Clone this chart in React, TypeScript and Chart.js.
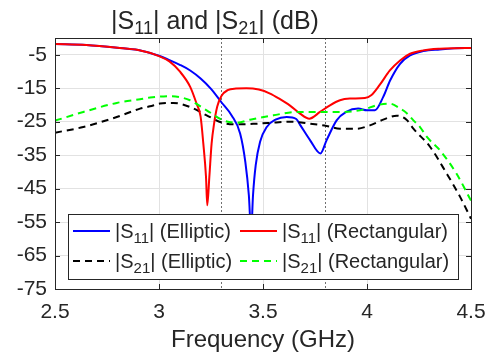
import React, { useEffect, useRef } from 'react';
import { Chart, registerables } from 'chart.js';

Chart.register(...registerables);

// ---- data ----
const s11EllipticFreq = [2.5, 2.65, 2.8, 2.9, 3.0, 3.05, 3.1, 3.15, 3.2, 3.25, 3.3, 3.35, 3.39, 3.415, 3.432, 3.443, 3.452, 3.465, 3.486, 3.518, 3.56, 3.614, 3.66, 3.68, 3.726, 3.776, 3.806, 3.854, 3.9, 3.958, 4.0, 4.038, 4.078, 4.111, 4.159, 4.207, 4.27, 4.35, 4.42, 4.5];
const s11EllipticDb = [-1.8, -2.1, -2.9, -3.6, -5.3, -6.6, -8.0, -9.7, -12.1, -15.2, -19.2, -23.2, -28.5, -37, -47, -58, -47, -38, -31, -26.6, -24.4, -23.6, -24.2, -26.1, -30.5, -34.5, -30.5, -24.6, -22.1, -21.1, -21.6, -21.6, -17.6, -12.7, -7.7, -5.2, -3.9, -3.4, -3.1, -3.0];

const s11RectFreq = [2.5, 2.65, 2.8, 2.9, 3.0, 3.05, 3.1, 3.15, 3.18, 3.2, 3.213, 3.226, 3.232, 3.242, 3.253, 3.265, 3.28, 3.3, 3.33, 3.37, 3.42, 3.48, 3.534, 3.58, 3.63, 3.678, 3.723, 3.774, 3.822, 3.87, 3.918, 3.99, 4.02, 4.06, 4.11, 4.159, 4.207, 4.27, 4.35, 4.42, 4.5];
const s11RectDb = [-1.8, -2.1, -2.9, -3.6, -5.4, -7.0, -10.0, -14.6, -19.5, -23.5, -31.5, -41.5, -50, -41.5, -31.5, -25.5, -20.5, -17.3, -15.6, -15.1, -15.0, -15.4, -16.6, -18.2, -20.2, -22.6, -24.1, -22.1, -20.1, -18.6, -18.1, -17.9, -17.1, -14.1, -9.7, -6.7, -4.7, -3.7, -3.2, -3.05, -3.0];

const s21EllipticFreq = [2.5, 2.636, 2.797, 2.909, 2.957, 3.005, 3.069, 3.149, 3.229, 3.309, 3.389, 3.47, 3.55, 3.63, 3.726, 3.806, 3.87, 3.95, 4.014, 4.078, 4.143, 4.19, 4.223, 4.303, 4.383, 4.447, 4.5];
const s21EllipticDb = [-28.3, -26.6, -23.6, -21.1, -20.4, -19.6, -19.4, -20.6, -23.1, -25.4, -25.8, -25.6, -25.3, -25.0, -25.6, -26.3, -27.1, -27.1, -26.1, -24.4, -23.2, -24.4, -27.1, -32.5, -40.5, -47.4, -54];

const s21RectFreq = [2.5, 2.636, 2.797, 2.909, 2.957, 3.053, 3.1, 3.149, 3.229, 3.309, 3.373, 3.438, 3.55, 3.662, 3.79, 3.87, 3.982, 4.046, 4.11, 4.159, 4.19, 4.223, 4.255, 4.287, 4.35, 4.43, 4.5];
const s21RectDb = [-24.7, -22.1, -19.4, -18.3, -17.8, -17.4, -17.7, -18.6, -21.6, -24.6, -25.3, -24.4, -23.1, -22.1, -22.1, -22.1, -21.4, -20.1, -19.6, -21.1, -22.4, -24.6, -26.6, -29.5, -33.5, -40.5, -48.6];

const xTicks = [2.5, 3, 3.5, 4, 4.5];
const yTicks = [-5, -15, -25, -35, -45, -55, -65, -75];
const markerFreqs = [3.3, 3.8];
const seriesLabels = ['|S_{11}| (Elliptic)', '|S_{11}| (Rectangular)', '|S_{21}| (Elliptic)', '|S_{21}| (Rectangular)'];
const titleText = '|S_{11}| and |S_{21}| (dB)';
const xAxisTitle = 'Frequency (GHz)';

const FONT = '"Liberation Sans", Arial, sans-serif';

type Seg = { t: string; sub: boolean };
function parseRich(text: string): Seg[] {
  const segs: Seg[] = [];
  const re = /_\{([^}]*)\}/g;
  let last = 0;
  let m: RegExpExecArray | null;
  while ((m = re.exec(text))) {
    if (m.index > last) segs.push({ t: text.slice(last, m.index), sub: false });
    segs.push({ t: m[1], sub: true });
    last = m.index + m[0].length;
  }
  if (last < text.length) segs.push({ t: text.slice(last), sub: false });
  return segs;
}

function drawRich(ctx: CanvasRenderingContext2D, text: string, x: number, y: number, size: number, subSize: number, subDy: number, align: 'left' | 'center') {
  const segs = parseRich(text);
  const mainF = `${size}px ${FONT}`;
  const subF = `${subSize}px ${FONT}`;
  let w = 0;
  for (const s of segs) {
    ctx.font = s.sub ? subF : mainF;
    w += ctx.measureText(s.t).width;
  }
  let cx = align === 'center' ? x - w / 2 : x;
  ctx.textAlign = 'left';
  ctx.textBaseline = 'alphabetic';
  for (const s of segs) {
    ctx.font = s.sub ? subF : mainF;
    ctx.fillText(s.t, cx, s.sub ? y + subDy : y);
    cx += ctx.measureText(s.t).width;
  }
}

const decorPlugin = {
  id: 'decor',
  beforeDatasetsDraw(chart: any) {
    const { ctx, chartArea: a, scales } = chart;
    ctx.save();
    ctx.strokeStyle = '#707070';
    ctx.lineWidth = 1;
    ctx.setLineDash([2, 2]);
    for (const f of markerFreqs) {
      const px = Math.round(scales.x.getPixelForValue(f)) + 0.5;
      ctx.beginPath();
      ctx.moveTo(px, a.top);
      ctx.lineTo(px, a.bottom);
      ctx.stroke();
    }
    ctx.restore();
  },
  afterDatasetsDraw(chart: any) {
    const { ctx, chartArea: a, scales } = chart;
    ctx.save();
    // box
    ctx.strokeStyle = '#262626';
    ctx.lineWidth = 1;
    ctx.strokeRect(Math.round(a.left) + 0.5, Math.round(a.top) + 0.5, Math.round(a.right - a.left), Math.round(a.bottom - a.top));
    // inward ticks
    const tl = 5;
    ctx.beginPath();
    for (const v of xTicks) {
      const px = Math.round(scales.x.getPixelForValue(v)) + 0.5;
      ctx.moveTo(px, a.bottom); ctx.lineTo(px, a.bottom - tl);
      ctx.moveTo(px, a.top); ctx.lineTo(px, a.top + tl);
    }
    for (const v of yTicks) {
      const py = Math.round(scales.y.getPixelForValue(v)) + 0.5;
      ctx.moveTo(a.left, py); ctx.lineTo(a.left + tl, py);
      ctx.moveTo(a.right, py); ctx.lineTo(a.right - tl, py);
    }
    ctx.stroke();

    // legend
    const bx = 68, by = 214, bw = 390, bh = 65;
    ctx.fillStyle = '#ffffff';
    ctx.fillRect(bx, by, bw, bh);
    ctx.strokeStyle = '#262626';
    ctx.strokeRect(bx + 0.5, by + 0.5, bw, bh);
    const order = [0, 1, 2, 3];
    const cols = [73, 240];
    const rows = [231, 261];
    order.forEach((di, k) => {
      const ds = chart.data.datasets[di];
      const lx = cols[k % 2];
      const ly = rows[Math.floor(k / 2)];
      ctx.save();
      ctx.strokeStyle = ds.borderColor;
      ctx.lineWidth = ds.borderWidth;
      ctx.setLineDash(ds.borderDash || []);
      ctx.beginPath();
      ctx.moveTo(lx, ly);
      ctx.lineTo(lx + 37, ly);
      ctx.stroke();
      ctx.restore();
      ctx.fillStyle = '#262626';
      drawRich(ctx, ds.label, lx + 42, ly + 7, 20, 15, 5, 'left');
    });
    ctx.restore();
  },
  afterDraw(chart: any) {
    const { ctx } = chart;
    ctx.save();
    ctx.fillStyle = '#262626';
    drawRich(ctx, titleText, 215, 29, 25, 18, 5, 'center');
    ctx.restore();
  },
};

function pts(fs: number[], vs: number[]) {
  return fs.map((f, i) => ({ x: f, y: vs[i] }));
}

export default function App() {
  const ref = useRef<HTMLCanvasElement | null>(null);
  useEffect(() => {
    if (!ref.current) return;
    const common = { pointRadius: 0, fill: false, cubicInterpolationMode: 'monotone' as const, borderWidth: 2 };
    const chart = new Chart(ref.current, {
      type: 'line',
      data: {
        datasets: [
          { ...common, label: seriesLabels[0], data: pts(s11EllipticFreq, s11EllipticDb), borderColor: '#0000ff', order: 3 },
          { ...common, label: seriesLabels[1], data: pts(s11RectFreq, s11RectDb), borderColor: '#ff0000', order: 1 },
          { ...common, label: seriesLabels[2], data: pts(s21EllipticFreq, s21EllipticDb), borderColor: '#000000', borderDash: [7, 5], order: 2 },
          { ...common, label: seriesLabels[3], data: pts(s21RectFreq, s21RectDb), borderColor: '#00ff00', borderDash: [7, 5], order: 0 },
        ],
      },
      options: {
        animation: false,
        responsive: false,
        maintainAspectRatio: false,
        devicePixelRatio: 1,
        layout: { padding: { left: 0, right: 21, top: 38, bottom: 0 } },
        plugins: { legend: { display: false }, tooltip: { enabled: false }, title: { display: false } },
        scales: {
          x: {
            type: 'linear',
            min: 2.5,
            max: 4.5,
            afterBuildTicks: (s: any) => { s.ticks = xTicks.map((v) => ({ value: v })); },
            afterFit: (s: any) => { s.height = 67; s.paddingLeft = 0; s.paddingRight = 0; },
            grid: { color: '#e2e2e2', drawTicks: false },
            border: { display: false },
            ticks: { color: '#262626', font: { family: FONT, size: 21 }, padding: 11, maxRotation: 0, callback: (v: any) => String(v) },
            title: { display: true, text: xAxisTitle, color: '#262626', font: { family: FONT, size: 24 }, padding: { top: 0, bottom: 1 } },
          },
          y: {
            type: 'linear',
            min: -75,
            max: 0,
            afterBuildTicks: (s: any) => { s.ticks = yTicks.map((v) => ({ value: v })); },
            afterFit: (s: any) => { s.width = 55; s.paddingTop = 0; s.paddingBottom = 0; },
            grid: { color: '#e2e2e2', drawTicks: false },
            border: { display: false },
            ticks: { color: '#262626', font: { family: FONT, size: 21 }, padding: 8, callback: (v: any) => String(v) },
          },
        },
      },
      plugins: [decorPlugin],
    });
    return () => chart.destroy();
  }, []);
  return (
    <div style={{ position: 'absolute', left: 0, top: 0, width: 492, height: 356, background: '#fff' }}>
      <canvas ref={ref} width={492} height={356} style={{ width: 492, height: 356, display: 'block' }} />
    </div>
  );
}
